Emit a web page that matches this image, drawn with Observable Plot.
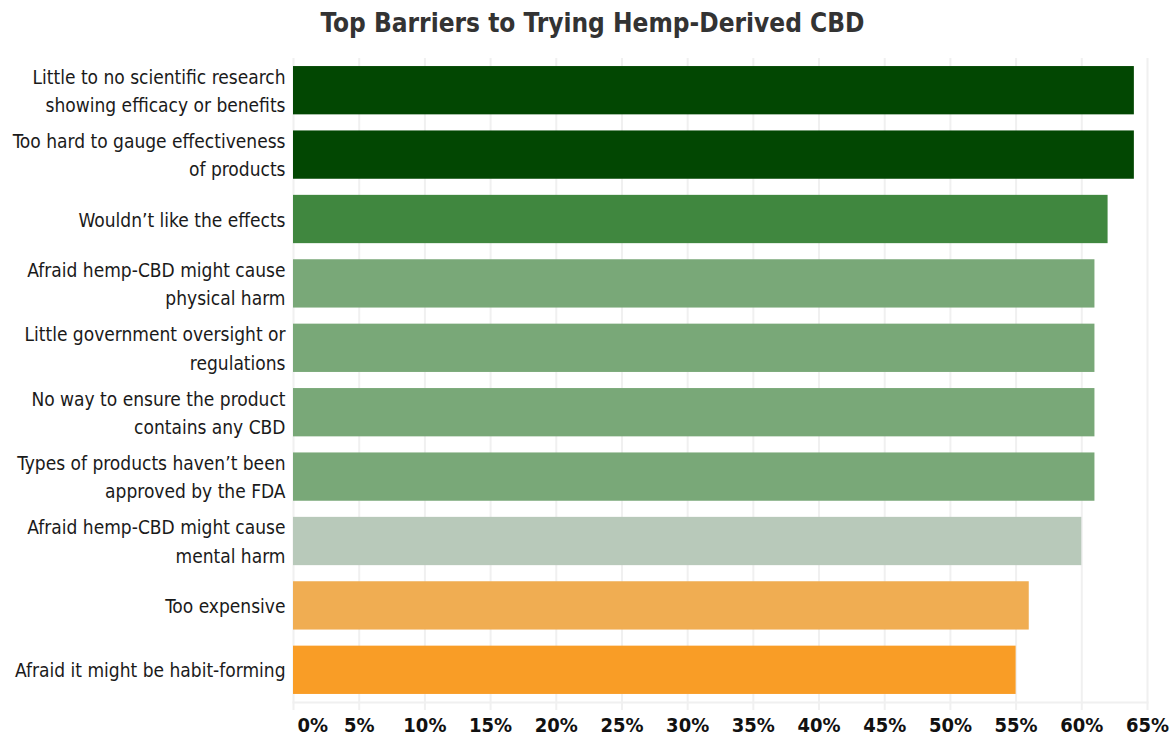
<!DOCTYPE html>
<html>
<head>
<meta charset="utf-8">
<script src="https://cdn.jsdelivr.net/npm/d3@7"></script>
<script src="https://cdn.jsdelivr.net/npm/@observablehq/plot@0.6"></script>
<style>
  html, body { margin: 0; padding: 0; background: #fff; }
  body { width: 1171px; font-family: "DejaVu Sans Condensed", "Roboto", sans-serif; font-stretch: condensed; }
  #title { height: 45px; margin: 0; text-align: center; font-size: 26px; font-weight: bold; color: #333; line-height: 46px; padding-left: 14px; overflow: hidden; }
  #chart { height: 695px; }
</style>
</head>
<body>
<div id="title">Top Barriers to Trying Hemp-Derived CBD</div>
<div id="chart"></div>
<script>
const categories = [
  "Little to no scientific research\nshowing efficacy or benefits",
  "Too hard to gauge effectiveness\nof products",
  "Wouldn\u2019t like the effects",
  "Afraid hemp-CBD might cause\nphysical harm",
  "Little government oversight or\nregulations",
  "No way to ensure the product\ncontains any CBD",
  "Types of products haven\u2019t been\napproved by the FDA",
  "Afraid hemp-CBD might cause\nmental harm",
  "Too expensive",
  "Afraid it might be habit-forming"
];
const values = [64, 64, 62, 61, 61, 61, 61, 60, 56, 55];
const tickValues = [0, 5, 10, 15, 20, 25, 30, 35, 40, 45, 50, 55, 60, 65];

const data = categories.map((c, i) => ({category: c, value: values[i]}));

const colorDomain = [64, 62, 61, 60, 56, 55];
const colorRange = ["#024702", "#40873f", "#79a878", "#b8c9ba", "#f0ad52", "#f99d26"];

const fontFamily = '"DejaVu Sans Condensed", Roboto, sans-serif';

const chart = Plot.plot({
  width: 1171,
  height: 695,
  marginTop: 13,
  marginBottom: 38,
  marginLeft: 293,
  marginRight: 24,
  style: {fontFamily, fontStretch: "condensed", background: "#fff", overflow: "visible"},
  x: {domain: [0, 65], axis: null},
  y: {domain: categories, paddingInner: 0.25, paddingOuter: 0.125, round: false, axis: null},
  color: {type: "ordinal", domain: colorDomain, range: colorRange},
  marks: [
    Plot.gridX(tickValues, {stroke: "#f0f0f0", strokeOpacity: 1, strokeWidth: 2, insetBottom: -8}),
    Plot.frame({anchor: "bottom", stroke: "#f0f0f0", strokeWidth: 2}),
    Plot.barX(data, {y: "category", x: "value", fill: d => d.value}),
    Plot.axisY({
      label: null,
      tickSize: 0,
      tickPadding: 8,
      dy: -2,
      fontSize: 19,
      lineHeight: 1.5,
      fill: "#1a1a1a"
    }),
    Plot.text(tickValues.filter(d => d !== 0), {
      x: d => d, frameAnchor: "bottom", lineAnchor: "middle", dy: 23, text: d => d + "%",
      fontSize: 20, fontWeight: "bold", fill: "#111"
    }),
    Plot.text(tickValues.filter(d => d === 0), {
      x: d => d, frameAnchor: "bottom", lineAnchor: "middle", dy: 23, dx: 4, textAnchor: "start", text: d => d + "%",
      fontSize: 20, fontWeight: "bold", fill: "#111"
    })
  ]
});
document.getElementById("chart").appendChild(chart);
</script>
</body>
</html>
